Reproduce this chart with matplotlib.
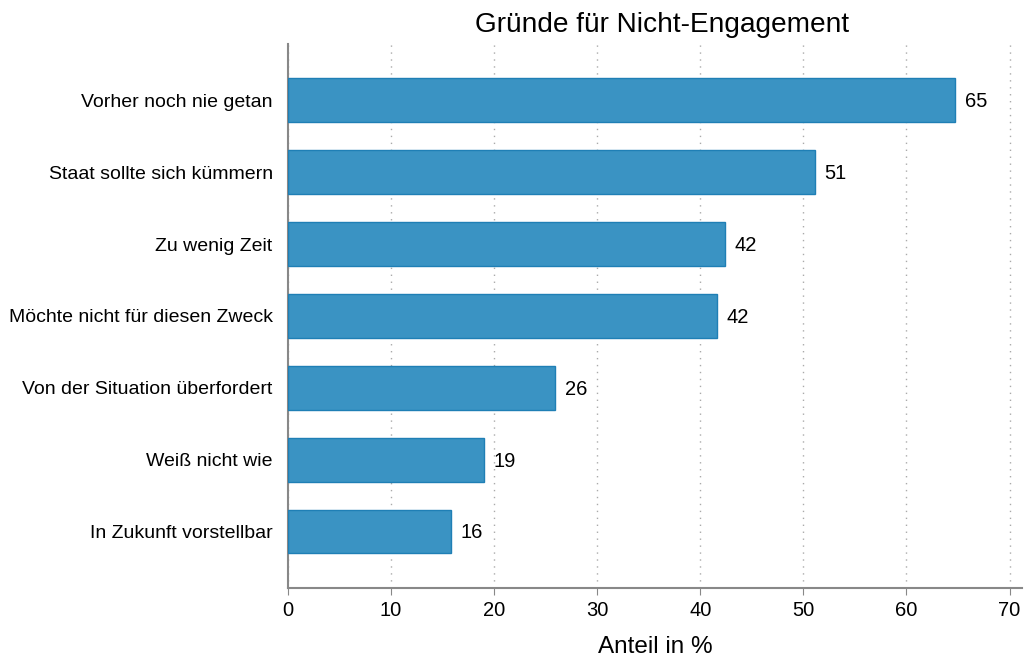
import numpy as np
import matplotlib.pyplot as plt

plt.rcParams['font.family'] = ['Liberation Sans', 'DejaVu Sans']

categories = ['Vorher noch nie getan', 'Staat sollte sich kümmern', 'Zu wenig Zeit',
              'Möchte nicht für diesen Zweck', 'Von der Situation überfordert',
              'Weiß nicht wie', 'In Zukunft vorstellbar']
values = [64.7, 51.1, 42.4, 41.6, 25.9, 19.0, 15.8]
labels = ['65', '51', '42', '42', '26', '19', '16']

fig = plt.figure(figsize=(10.25, 6.61), dpi=100)
ax = fig.add_axes([0.281, 0.110, 0.716, 0.823])

y = np.arange(len(categories))
ax.barh(y, values, height=0.61, color='#3a93c3', edgecolor='#1f7fb5', linewidth=1, zorder=3)
for yi, v, lab in zip(y, values, labels):
    ax.text(v + 0.95, yi + 0.02, lab, va='center', ha='left', fontsize=14.5, color='black')

ax.set_yticks(y)
ax.set_yticklabels(categories, fontsize=14)
ax.set_ylim(6.79, -0.78)
ax.set_xlim(0, 71.2)
ax.set_xticks(np.arange(0, 71, 10))
ax.tick_params(axis='x', labelsize=14.5, length=5, color='#888888', pad=4)
ax.tick_params(axis='y', length=0, pad=11)
ax.grid(axis='x', linestyle=(0, (1, 4)), color='#aaaaaa', linewidth=1, zorder=0)

for s in ['top', 'right']:
    ax.spines[s].set_visible(False)
for s in ['left', 'bottom']:
    ax.spines[s].set_color('#888888')
    ax.spines[s].set_linewidth(1.5)

ax.set_xlabel('Anteil in %', fontsize=17.5, labelpad=12)
ax.set_title('Gründe für Nicht-Engagement', fontsize=20.2, pad=9, x=0.51)

fig.savefig('out.png', dpi=100)
